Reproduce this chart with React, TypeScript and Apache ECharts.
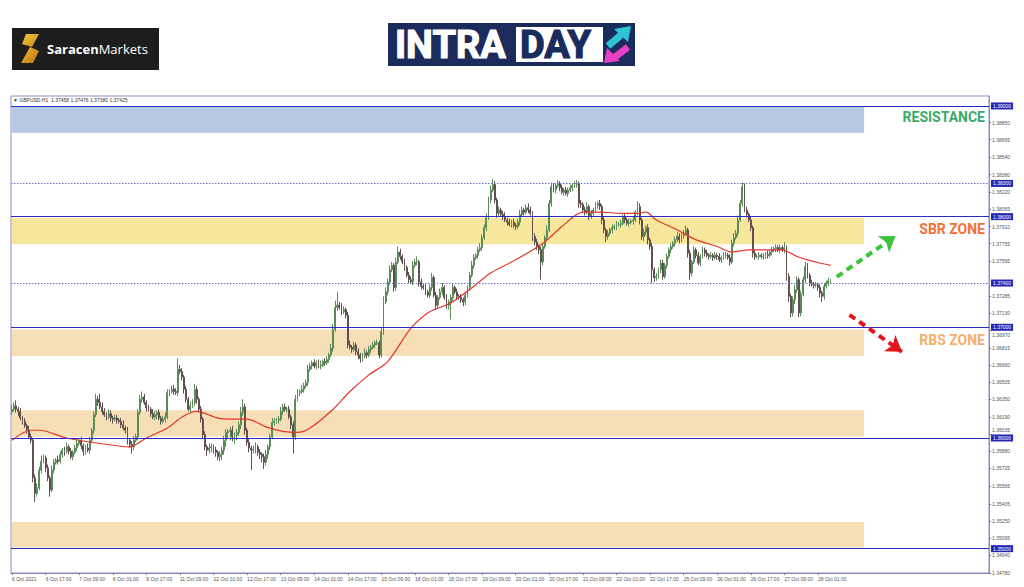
import React, { useEffect, useRef } from "react";
import * as echarts from "echarts";

// ---------- DATA ----------
const xTickLabels = [
  "6 Oct 2021", "6 Oct 17:00", "7 Oct 09:00", "8 Oct 01:00", "8 Oct 17:00",
  "11 Oct 09:00", "12 Oct 01:00", "12 Oct 17:00", "13 Oct 09:00", "14 Oct 01:00",
  "14 Oct 17:00", "15 Oct 09:00", "18 Oct 01:00", "18 Oct 17:00", "19 Oct 09:00",
  "20 Oct 01:00", "20 Oct 17:00", "21 Oct 09:00", "22 Oct 01:00", "22 Oct 17:00",
  "25 Oct 09:00", "26 Oct 01:00", "26 Oct 17:00", "27 Oct 09:00", "28 Oct 01:00",
];
const yTickValues = [
  1.3478, 1.3494, 1.35095, 1.3525, 1.35405, 1.35565, 1.35725, 1.3588, 1.36035,
  1.3619, 1.3635, 1.36505, 1.3666, 1.36815, 1.3697, 1.3713, 1.37285, 1.37595,
  1.37755, 1.3791, 1.38065, 1.3822, 1.3838, 1.3854, 1.38695, 1.3885,
];
// tick labels sitting next to a highlighted level (drawn nudged below / above it)
const tickBelowLevel = [1.3697];
const tickAboveLevel = [1.36035];
const levelLines = [1.39, 1.38, 1.37, 1.36, 1.35];
const dottedLevels = [1.383, 1.374];
const resistanceZone = [1.39, 1.38757];
const sbrZone = [1.3799, 1.3775];
const rbsZones = [
  [1.3698, 1.3674],
  [1.3625, 1.3601],
  [1.3524, 1.3501],
];
const headerText = "GBPUSD,H1  1.37458 1.37476 1.37380 1.37425";

const firstOpen = 1.3624;
const closes = [
  1.3626,1.3629,1.3626,1.3624,1.3618,1.3615,1.3611,1.3607,1.3601,1.3598,
  1.3564,1.3550,1.3555,1.3571,1.3579,1.3582,1.3573,1.3564,1.3553,1.3571,
  1.3578,1.3580,1.3579,1.3585,1.3589,1.3588,1.3592,1.3588,1.3583,1.3587,
  1.3591,1.3595,1.3598,1.3593,1.3588,1.3591,1.3589,1.3598,1.3607,1.3621,
  1.3635,1.3632,1.3628,1.3624,1.3621,1.3619,1.3622,1.3618,1.3617,1.3618,
  1.3616,1.3615,1.3612,1.3609,1.3607,1.3598,1.3594,1.3592,1.3598,1.3601,
  1.3623,1.3635,1.3637,1.3632,1.3627,1.3626,1.3622,1.3619,1.3621,1.3623,
  1.3618,1.3615,1.3617,1.3619,1.3641,1.3642,1.3644,1.3642,1.3641,1.3662,
  1.3660,1.3655,1.3644,1.3635,1.3626,1.3629,1.3632,1.3644,1.3635,1.3626,
  1.3617,1.3603,1.3592,1.3589,1.3591,1.3592,1.3589,1.3587,1.3583,1.3585,
  1.3589,1.3598,1.3605,1.3606,1.3607,1.3601,1.3603,1.3605,1.3612,1.3623,
  1.3628,1.3607,1.3596,1.3591,1.3589,1.3590,1.3592,1.3587,1.3585,1.3583,
  1.3578,1.3585,1.3592,1.3601,1.3614,1.3615,1.3616,1.3617,1.3624,1.3628,
  1.3626,1.3626,1.3619,1.3612,1.3601,1.3635,1.3641,1.3642,1.3644,1.3647,
  1.3650,1.3662,1.3665,1.3668,1.3665,1.3668,1.3665,1.3666,1.3669,1.3668,
  1.3671,1.3675,1.3681,1.3698,1.3718,1.3720,1.3718,1.3714,1.3716,1.3711,
  1.3684,1.3682,1.3680,1.3684,1.3678,1.3675,1.3672,1.3674,1.3677,1.3675,
  1.3680,1.3682,1.3684,1.3686,1.3686,1.3675,1.3696,1.3723,1.3732,1.3741,
  1.3752,1.3756,1.3736,1.3759,1.3768,1.3764,1.3759,1.3754,1.3747,1.3743,
  1.3741,1.3756,1.3759,1.3759,1.3741,1.3737,1.3736,1.3732,1.3729,1.3736,
  1.3745,1.3729,1.3720,1.3727,1.3732,1.3736,1.3727,1.3720,1.3723,1.3727,
  1.3736,1.3732,1.3728,1.3727,1.3725,1.3723,1.3729,1.3736,1.3747,1.3756,
  1.3763,1.3765,1.3770,1.3772,1.3781,1.3790,1.3799,1.3815,1.3824,1.3829,
  1.3815,1.3803,1.3806,1.3802,1.3800,1.3797,1.3795,1.3793,1.3795,1.3792,
  1.3791,1.3795,1.3802,1.3806,1.3804,1.3808,1.3806,1.3803,1.3782,1.3777,
  1.3773,1.3770,1.3759,1.3773,1.3781,1.3788,1.3812,1.3827,1.3824,1.3828,
  1.3830,1.3826,1.3822,1.3824,1.3821,1.3824,1.3826,1.3828,1.3829,1.3830,
  1.3812,1.3811,1.3806,1.3804,1.3809,1.3800,1.3803,1.3806,1.3810,1.3812,
  1.3809,1.3797,1.3788,1.3782,1.3785,1.3788,1.3790,1.3791,1.3793,1.3793,
  1.3794,1.3800,1.3797,1.3794,1.3795,1.3796,1.3797,1.3804,1.3809,1.3797,
  1.3782,1.3786,1.3790,1.3779,1.3773,1.3752,1.3745,1.3746,1.3752,1.3758,
  1.3746,1.3756,1.3764,1.3770,1.3773,1.3776,1.3779,1.3782,1.3779,1.3783,
  1.3785,1.3788,1.3767,1.3749,1.3759,1.3770,1.3765,1.3758,1.3764,1.3770,
  1.3767,1.3765,1.3764,1.3765,1.3763,1.3765,1.3764,1.3761,1.3763,1.3765,
  1.3765,1.3763,1.3759,1.3776,1.3781,1.3785,1.3797,1.3812,1.3827,1.3806,
  1.3802,1.3797,1.3790,1.3767,1.3764,1.3764,1.3765,1.3764,1.3764,1.3766,
  1.3765,1.3768,1.3770,1.3771,1.3772,1.3770,1.3772,1.3770,1.3772,1.3746,
  1.3728,1.3713,1.3725,1.3734,1.3743,1.3713,1.3730,1.3743,1.3755,1.3747,
  1.3740,1.3739,1.3738,1.3738,1.3736,1.3731,1.3728,1.3737,1.3740,1.3742,1.37425,
];
// wick lengths in pips above / below the candle body
const wickUp = [
  4,3,5,2,3,2,3,2,4,3, 2,3,4,3,5,3,2,3,2,4, 3,2,4,3,2,3,4,2,3,2, 3,4,2,3,2,3,4,3,2,3,
  5,3,8,4,3,2,4,3,2,3, 3,2,3,4,2,3,2,3,4,3, 3,4,5,3,2,3,2,4,3,2, 3,2,3,4,3,2,3,4,3,10,
  4,3,2,3,2,4,3,5,3,2, 3,2,3,2,4,3,2,3,2,3, 3,4,3,2,3,4,2,3,3,5, 7,3,2,3,2,3,4,2,3,2,
  3,4,2,3,4,3,2,3,4,3, 3,2,3,2,3,4,3,2,4,3, 3,4,3,2,3,2,3,4,2,3, 3,2,4,5,6,12,3,4,3,2,
  3,4,2,3,2,3,2,3,4,2, 3,2,3,2,3,2,4,5,4,3, 4,3,2,4,5,3,2,3,2,3, 3,4,3,5,2,3,2,3,2,3,
  4,2,3,2,3,4,2,3,2,3, 3,2,3,2,3,2,3,2,3,4, 3,2,3,4,3,3,4,3,4,5, 3,2,3,2,3,4,2,3,2,3,
  2,3,4,3,2,3,4,3,2,3, 3,2,3,3,2,4,3,4,3,2, 3,2,3,2,3,2,3,2,3,3, 2,3,2,3,4,2,3,2,3,2,
  3,2,3,2,3,2,3,2,3,2, 3,2,3,2,3,2,3,2,5,3, 2,3,2,3,2,3,2,3,2,3, 3,2,3,2,3,2,3,4,3,2,
  3,4,2,3,2,3,2,3,2,3, 2,3,2,3,2,3,2,3,2,3, 3,2,3,3,4,3,4,3,4,3, 3,2,3,2,3,2,3,2,3,2,
  3,2,3,2,3,2,3,2,5,2, 3,2,3,4,3,2,3,3,4,3, 2,3,2,3,2,3,2,3,2,3,1,
];
const wickDn = [
  3,2,3,4,2,3,2,3,2,3, 4,8,3,2,3,2,4,3,6,2, 3,2,3,2,3,4,2,3,2,3, 2,3,2,3,4,3,2,3,2,3,
  2,3,2,3,2,3,2,3,4,2, 3,2,3,2,3,4,3,6,3,2, 3,2,3,2,3,2,3,2,3,4, 2,3,2,3,2,3,2,3,2,3,
  2,3,4,3,2,3,2,3,4,3, 3,4,3,5,3,4,3,4,3,4, 5,4,6,5,8,4,6,5,3,4, 3,4,3,4,18,3,4,3,4,5,
  6,3,4,3,2,3,2,3,2,3, 2,3,2,4,15,3,2,3,2,3, 2,3,2,3,2,3,2,3,2,3, 2,3,2,3,2,3,2,3,2,3,
  3,2,3,2,3,4,4,3,2,3, 2,3,2,3,2,3,2,3,2,3, 3,2,4,3,2,3,2,3,2,3, 2,3,2,3,4,3,2,3,2,3,
  3,2,4,3,2,3,2,3,4,16, 3,2,3,2,3,4,3,2,3,2, 3,2,3,2,3,2,3,2,3,2, 3,4,3,2,3,2,3,2,3,2,
  3,2,3,2,3,2,3,2,4,3, 3,4,16,3,2,3,2,3,2,3, 2,3,2,3,2,3,2,3,2,3, 4,3,2,3,2,3,2,3,2,3,
  3,4,3,5,3,2,3,2,3,2, 3,2,3,2,3,2,3,2,3,4, 3,4,3,4,3,12,4,3,2,3, 3,2,3,2,3,2,3,2,3,2,
  3,2,4,6,3,2,3,2,3,2, 3,2,3,2,3,2,3,2,3,2, 3,2,3,2,3,2,3,2,3,2, 3,2,3,4,3,2,3,2,3,2,
  3,2,3,2,3,2,3,2,3,4, 5,4,3,4,3,4,3,2,3,3, 3,2,3,2,3,4,5,3,2,3,2,
];
// 50-period moving average, read at selected bars
const maIndex = [0,9,13,26,42,56,64,74,81,88,98,105,112,121,129,136,142,153,161,170,179,190,199,209,218,228,240,253,262,272,279,291,298,302,307,317,326,336,343,351,361,367,374,383,390];
const maValue = [1.3598,1.3607,1.3607,1.3600,1.3595,1.3592,1.3600,1.3609,1.3619,1.3624,1.3618,1.3617,1.3617,1.3610,1.3606,1.3605,1.3609,1.3626,1.3642,1.3657,1.3669,1.3699,1.3714,1.3722,1.3734,1.3749,1.3761,1.3776,1.3791,1.3804,1.3804,1.3803,1.3803,1.3804,1.3797,1.3788,1.3779,1.3773,1.3768,1.3770,1.3770,1.3770,1.3764,1.3759,1.3756];
// projection arrows: [barIndex, price]
const upArrow = [[393, 1.37456], [421, 1.37826]];
const downArrow = [[399, 1.37113], [424, 1.36779]];

// ---------- LAYOUT CONSTANTS ----------
const SLOTS = 466;
const BARS_PER_LABEL = 16;
const ZONE_END = 406;
const PIP = 0.0001;

export default function App() {
  const ref = useRef<HTMLDivElement>(null);

  useEffect(() => {
    if (!ref.current) return;
    const chart = echarts.init(ref.current, undefined, { renderer: "svg" });

    const categories = Array.from({ length: SLOTS }, (_, i) =>
      i % BARS_PER_LABEL === 0 && i / BARS_PER_LABEL < xTickLabels.length
        ? xTickLabels[i / BARS_PER_LABEL]
        : "b" + i
    );
    const showLabel = (index: number) =>
      index % BARS_PER_LABEL === 0 && index / BARS_PER_LABEL < xTickLabels.length;

    const candles = closes.map((c, i) => {
      const o = i === 0 ? firstOpen : closes[i - 1];
      const hi = Math.max(o, c) + (wickUp[i] ?? 3) * PIP;
      const lo = Math.min(o, c) - (wickDn[i] ?? 3) * PIP;
      return [o, c, lo, hi];
    });
    const ma = maIndex.map((idx, k) => [idx, maValue[k]]);

    const near = (list: number[], v: number) => list.some((x) => Math.abs(x - v) < 1e-7);
    const yLabel = (v: number) => {
      const t = v.toFixed(5);
      if (near(tickBelowLevel, v)) return "{lo|" + t + "}";
      if (near(tickAboveLevel, v)) return "{hi|" + t + "}";
      return t;
    };

    const zoneItem = (range: number[], color: string) => [
      { coord: [0, range[0]], itemStyle: { color } },
      { coord: [ZONE_END, range[1]] },
    ];

    const highlightLabel = {
      show: true,
      position: "end",
      distance: 2,
      formatter: (p: any) => Number(p.value).toFixed(5),
      backgroundColor: "#2626b3",
      color: "#ffffff",
      fontSize: 5,
      fontFamily: "Liberation Sans",
      padding: [1, 2, 1, 2],
    };

    const arrowLine = (pts: number[][], color: string) => [
      { coord: pts[0], symbol: "none", lineStyle: { color, width: 4, type: [7, 5] }, label: { show: false } },
      { coord: pts[1], symbol: "arrow", symbolSize: 15, lineStyle: { color, width: 4, type: [7, 5] }, itemStyle: { color }, label: { show: false } },
    ];

    const option: any = {
      animation: false,
      backgroundColor: "#ffffff",
      grid: {
        left: 11,
        right: 35,
        top: 96,
        bottom: 14,
        show: true,
        borderColor: "#8c8cc0",
        borderWidth: 1,
      },
      xAxis: {
        type: "category",
        data: categories,
        boundaryGap: true,
        axisLine: { show: true, lineStyle: { color: "#8c8cc0" } },
        axisTick: {
          show: true,
          interval: showLabel,
          alignWithLabel: true,
          length: 2,
          lineStyle: { color: "#777" },
        },
        axisLabel: {
          interval: showLabel,
          align: "left",
          fontSize: 5,
          color: "#555",
          margin: 3,
          fontFamily: "Liberation Sans",
        },
        splitLine: { show: false },
      },
      yAxis: {
        type: "value",
        position: "right",
        min: 1.3478,
        max: 1.3909,
        axisLine: { show: true, lineStyle: { color: "#8c8cc0" } },
        axisTick: {
          show: true,
          length: 2,
          customValues: yTickValues,
          lineStyle: { color: "#777" },
        },
        axisLabel: {
          customValues: yTickValues,
          formatter: yLabel,
          fontSize: 5,
          color: "#555",
          margin: 3,
          fontFamily: "Liberation Sans",
          rich: {
            lo: { fontSize: 5, color: "#555", fontFamily: "Liberation Sans", padding: [8, 0, 0, 0] },
            hi: { fontSize: 5, color: "#555", fontFamily: "Liberation Sans", padding: [0, 0, 8, 0] },
          },
        },
        splitLine: { show: false },
      },
      series: [
        {
          type: "candlestick",
          data: candles,
          barWidth: 1.4,
          z: 3,
          itemStyle: {
            color: "#3f8f3f",
            color0: "#3a1f1f",
            borderColor: "#5a8c5a",
            borderColor0: "#625050",
            borderWidth: 1,
          },
          markArea: {
            silent: true,
            data: [
              zoneItem(resistanceZone, "#b5c7e1"),
              zoneItem(sbrZone, "#f6e79d"),
              ...rbsZones.map((z) => zoneItem(z, "#f6deb6")),
            ],
          },
          markLine: {
            silent: true,
            precision: 5,
            symbol: ["none", "none"],
            label: highlightLabel,
            lineStyle: { color: "#2b2bbf", width: 1.2, type: "solid" },
            data: levelLines.map((v) => ({ yAxis: v })),
          },
        },
        {
          type: "line",
          data: ma,
          smooth: 0.3,
          showSymbol: false,
          z: 4,
          lineStyle: { color: "#e3342c", width: 1.2 },
          markLine: {
            silent: true,
            precision: 5,
            symbol: ["none", "none"],
            label: highlightLabel,
            lineStyle: { color: "#6e6ed0", width: 1, type: [1.5, 1.5] },
            data: [
              ...dottedLevels.map((v) => ({ yAxis: v })),
              arrowLine(upArrow, "#3cc23c"),
              arrowLine(downArrow, "#e3141b"),
            ],
          },
        },
      ],
      graphic: [
        // header
        {
          type: "text",
          x: 13,
          y: 100,
          style: {
            text: "\u25BC " + headerText,
            fill: "#333",
            font: "5px Liberation Sans",
            verticalAlign: "middle",
          },
        },
        // zone labels
        {
          type: "text",
          x: 985,
          y: 117,
          style: { text: "RESISTANCE", fill: "#3aa96a", font: "bold 14px Roboto", align: "right", verticalAlign: "middle" },
        },
        {
          type: "text",
          x: 985,
          y: 229,
          style: { text: "SBR ZONE", fill: "#f07038", font: "bold 14px Roboto", align: "right", verticalAlign: "middle" },
        },
        {
          type: "text",
          x: 985,
          y: 340,
          style: { text: "RBS ZONE", fill: "#f5ad6c", font: "bold 14px Roboto", align: "right", verticalAlign: "middle" },
        },
        // Saracen Markets logo
        { type: "rect", shape: { x: 12, y: 28, width: 147, height: 42 }, style: { fill: "#1d1d1d" } },
        {
          type: "polygon",
          shape: { points: [[26, 34], [39, 34], [32, 47], [22, 44]] },
          style: { fill: new echarts.graphic.LinearGradient(0, 0, 1, 1, [{ offset: 0, color: "#f6c242" }, { offset: 1, color: "#c98b17" }]) },
        },
        {
          type: "polygon",
          shape: { points: [[30, 47], [39, 51], [33, 63], [21, 63]] },
          style: { fill: new echarts.graphic.LinearGradient(0, 0, 1, 1, [{ offset: 0, color: "#f2b834" }, { offset: 1, color: "#b9780f" }]) },
        },
        {
          type: "text",
          x: 47,
          y: 49,
          style: {
            text: "{a|Saracen}{b|Markets}",
            verticalAlign: "middle",
            rich: {
              a: { fill: "#ffffff", fontSize: 13, fontWeight: "bold", fontFamily: "Open Sans" },
              b: { fill: "#ffffff", fontSize: 13, fontWeight: "normal", fontFamily: "Open Sans" },
            },
          },
        },
        // INTRADAY logo
        { type: "rect", shape: { x: 388, y: 23, width: 247, height: 43 }, style: { fill: "#1b2c5c" } },
        { type: "rect", shape: { x: 516, y: 27, width: 87, height: 35 }, style: { fill: "#ffffff" } },
        {
          type: "text",
          x: 395,
          y: 45,
          style: { text: "INTRA", fill: "#ffffff", stroke: "#ffffff", lineWidth: 1.2, font: "bold 38px Roboto", verticalAlign: "middle" },
        },
        {
          type: "text",
          x: 520,
          y: 45,
          style: { text: "DAY", fill: "#1b2c5c", stroke: "#1b2c5c", lineWidth: 1.2, font: "bold 38px Roboto", verticalAlign: "middle" },
        },
        { type: "line", shape: { x1: 608, y1: 46, x2: 621, y2: 35 }, style: { stroke: "#2ec4d6", lineWidth: 7 } },
        { type: "polygon", shape: { points: [[631, 26], [614, 29], [628, 42]] }, style: { fill: "#2ec4d6" } },
        { type: "line", shape: { x1: 628, y1: 47, x2: 615, y2: 57 }, style: { stroke: "#e83fc4", lineWidth: 7 } },
        { type: "polygon", shape: { points: [[604, 63], [607, 48], [620, 61]] }, style: { fill: "#e83fc4" } },
      ],
    };

    chart.setOption(option);
    return () => chart.dispose();
  }, []);

  return (
    <div
      ref={ref}
      style={{ position: "fixed", left: 0, top: 0, width: 1024, height: 587, background: "#fff" }}
    />
  );
}
